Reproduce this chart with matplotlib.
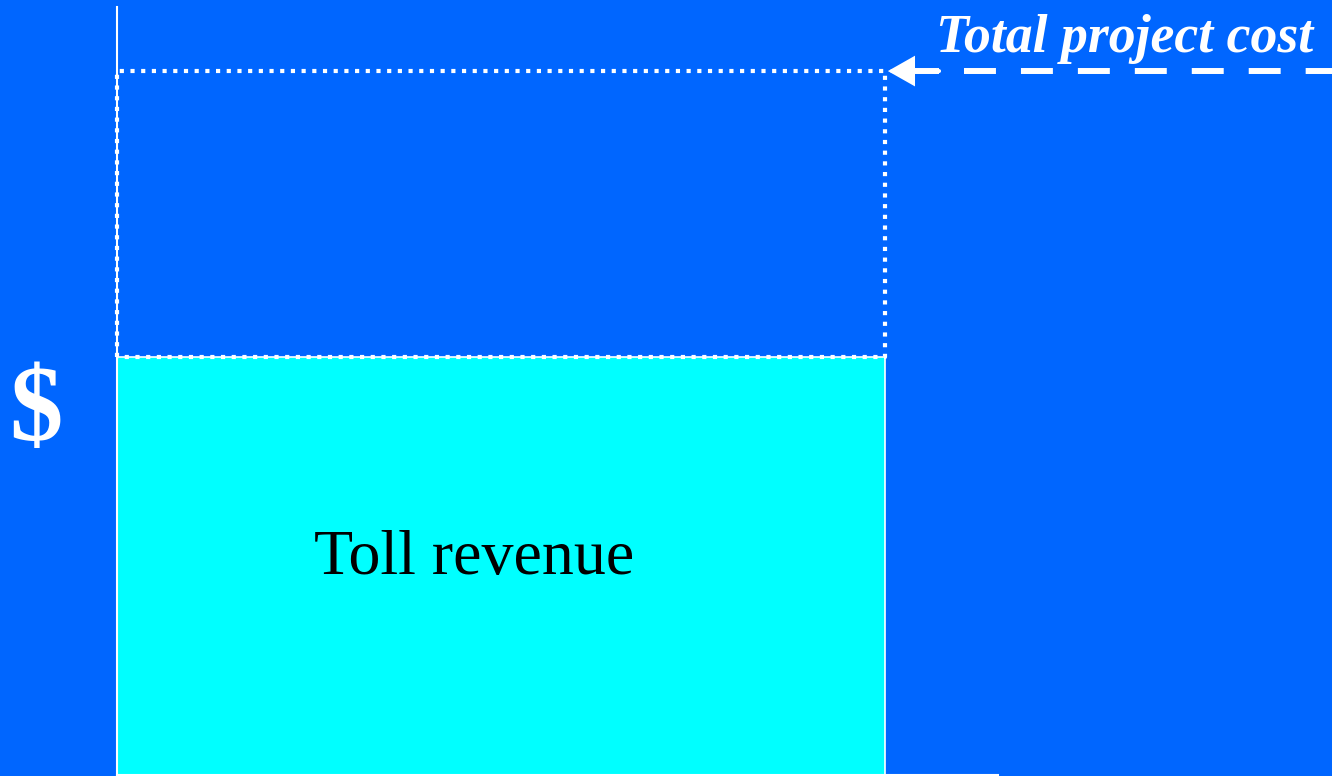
import matplotlib
matplotlib.use("Agg")
import matplotlib.pyplot as plt

# ===============================
# DATA
# ===============================
TOLL_REVENUE = 59.4
TOTAL_COST = 100.0
BAR_WIDTH = 8.72
Y_MAX = 109.1
X_MAX = 10.0

BG = "#0066FF"
BAR_COLOR = "#00FFFF"

plt.rcParams["lines.scale_dashes"] = False
SERIF = ["Liberation Serif", "DejaVu Serif"]

# ===============================
# FIGURE
# ===============================
fig = plt.figure(figsize=(13.32, 7.76), dpi=100, facecolor=BG)
ax = fig.add_axes([117 / 1332, 1 / 776, 881 / 1332, 768 / 776])
ax.set_facecolor(BG)
ax.set_xlim(0, X_MAX)
ax.set_ylim(0, Y_MAX)

for side in ["top", "right"]:
    ax.spines[side].set_visible(False)
for side in ["left", "bottom"]:
    ax.spines[side].set_color("white")
    ax.spines[side].set_linewidth(1.5)
ax.set_xticks([])
ax.set_yticks([])

# toll revenue bar
ax.bar(0, TOLL_REVENUE, width=BAR_WIDTH, align="edge",
       color=BAR_COLOR, edgecolor="white", linewidth=1.2, zorder=2)

# dotted outline of total project cost
ax.plot([0, 0, BAR_WIDTH, BAR_WIDTH, 0],
        [TOLL_REVENUE, TOTAL_COST, TOTAL_COST, TOLL_REVENUE, TOLL_REVENUE],
        color="white", linewidth=3.0, linestyle=(0, (3.0, 4.7)),
        dash_capstyle="butt", zorder=3, clip_on=False)

# dashed arrow from the right edge
x_right = (1340 - 117) / 881 * X_MAX
x_head = BAR_WIDTH + 0.02 + 52 / 881 * X_MAX
ax.plot([x_head, x_right], [TOTAL_COST, TOTAL_COST], color="white",
        linewidth=4.3, linestyle=(23, (23, 18)), dash_capstyle="butt",
        clip_on=False, zorder=3)
ax.plot([BAR_WIDTH + 0.2, x_head], [TOTAL_COST, TOTAL_COST], color="white",
        linewidth=4.3, solid_capstyle="butt", clip_on=False, zorder=3)
ax.annotate("", xy=(BAR_WIDTH + 0.03, TOTAL_COST),
            xytext=(x_head, TOTAL_COST),
            arrowprops=dict(arrowstyle="-|>,head_length=1.5,head_width=0.85",
                            color="white", linewidth=3.0, shrinkA=0, shrinkB=0,
                            joinstyle="miter"),
            annotation_clip=False, zorder=4)

# labels
ax.text(4.05, 28.5, "Toll revenue", family=SERIF, fontsize=46,
        color="black", ha="center", va="baseline", zorder=5)

fig.text(1313 / 1332, (776 - 52) / 776, "Total project cost", family=SERIF,
         fontsize=38.7, fontweight="bold", fontstyle="italic", color="white",
         ha="right", va="baseline")

fig.text(36 / 1332, (776 - 414) / 776, "\\$", family=SERIF, fontsize=77,
         fontweight="bold", color="white", ha="center", va="center")

fig.savefig("out.png", dpi=100, facecolor=BG)
